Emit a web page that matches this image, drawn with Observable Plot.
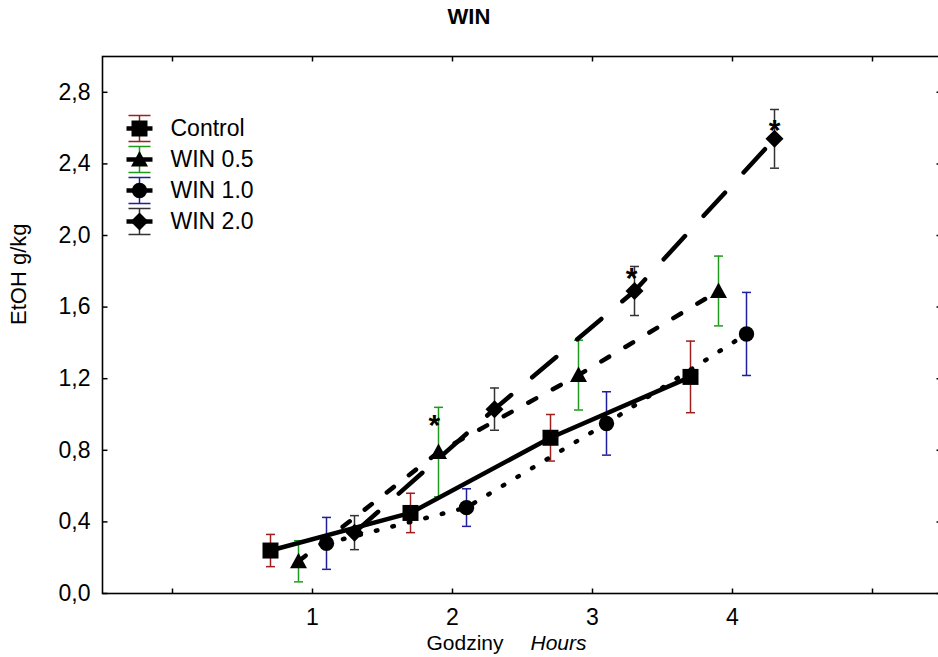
<!DOCTYPE html>
<html>
<head>
<meta charset="utf-8">
<script src="https://cdn.jsdelivr.net/npm/d3@7"></script>
<script src="https://cdn.jsdelivr.net/npm/@observablehq/plot@0.6"></script>
<style>
  html, body { margin: 0; padding: 0; background: #fff; overflow: hidden; }
  #title { width: 938px; height: 36px; box-sizing: border-box; padding-top: 4px; line-height: 22px;
           font: bold 22px "Liberation Sans", Arial, sans-serif; text-align: center; color: #000; }
</style>
</head>
<body>
<div id="title">WIN</div>
<div id="chart"></div>
<script>
// ---------------- data ----------------
const seriesNames = ["Control", "WIN 0.5", "WIN 1.0", "WIN 2.0"];

const controlX    = [0.7, 1.7, 2.7, 3.7];
const controlMean = [0.24, 0.45, 0.87, 1.21];
const controlErr  = [0.09, 0.11, 0.13, 0.20];

const win05X    = [0.9, 1.9, 2.9, 3.9];
const win05Mean = [0.18, 0.79, 1.22, 1.69];
const win05Err  = [0.115, 0.25, 0.195, 0.195];

const win10X    = [1.1, 2.1, 3.1, 4.1];
const win10Mean = [0.28, 0.48, 0.95, 1.45];
const win10Err  = [0.145, 0.105, 0.177, 0.232];

const win20X    = [1.3, 2.3, 3.3, 4.3];
const win20Mean = [0.34, 1.03, 1.69, 2.54];
const win20Err  = [0.095, 0.118, 0.137, 0.164];

// significance marks
const starX = [1.87, 3.28, 4.30];
const starY = [0.96, 1.78, 2.61];

// axis ticks
const xTicks = [0, 1, 2, 3, 4, 5];
const xTickLabels = [1, 2, 3, 4];
const yTicks = [0, 0.4, 0.8, 1.2, 1.6, 2.0, 2.4, 2.8];

const yTitle = "EtOH g/kg";
const xTitlePl = "Godziny";
const xTitleEn = "Hours";

// ---------------- styles ----------------
const FONT = '"Liberation Sans", Arial, sans-serif';
const barColors = ["#a01e1e", "#1f9a1f", "#1e1e9e", "#333333"];
const dashes = [null, "9,19", "1.5,15.5", "31.5,27.5"];

const sym = {
  square:   {draw(c) { c.moveTo(-8, -8); c.lineTo(8, -8); c.lineTo(8, 8); c.lineTo(-8, 8); c.closePath(); }},
  triangle: {draw(c) { c.moveTo(0, -8.5); c.lineTo(8.5, 7); c.lineTo(-8.5, 7); c.closePath(); }},
  circle:   {draw(c) { c.moveTo(7.7, 0); c.arc(0, 0, 7.7, 0, 2 * Math.PI); c.closePath(); }},
  diamond:  {draw(c) { c.moveTo(0, -9); c.lineTo(9, 0); c.lineTo(0, 9); c.lineTo(-9, 0); c.closePath(); }}
};
const markers = [sym.square, sym.triangle, sym.circle, sym.diamond];

const tickUp    = {draw(c) { c.moveTo(0, 0); c.lineTo(0, -5); }};
const tickDown  = {draw(c) { c.moveTo(0, 0); c.lineTo(0, 5); }};
const tickRight = {draw(c) { c.moveTo(0, 0); c.lineTo(5, 0); }};
const tickLeft  = {draw(c) { c.moveTo(0, 0); c.lineTo(-6, 0); }};
const cap       = {draw(c) { c.moveTo(-4.5, 0); c.lineTo(4.5, 0); }};
const legendBar = {draw(c) { c.moveTo(0, -13); c.lineTo(0, 13); c.moveTo(-11, -13); c.lineTo(11, -13); c.moveTo(-11, 13); c.lineTo(11, 13); }};
const legendStub = {draw(c) { c.moveTo(-13, 0); c.lineTo(13, 0); }};

// ---------------- build ----------------
const series = [
  {name: seriesNames[0], x: controlX, mean: controlMean, err: controlErr},
  {name: seriesNames[1], x: win05X, mean: win05Mean, err: win05Err},
  {name: seriesNames[2], x: win10X, mean: win10Mean, err: win10Err},
  {name: seriesNames[3], x: win20X, mean: win20Mean, err: win20Err}
];
const rows = series.map((s, si) => s.x.map((x, i) => ({
  series: s.name, si, x, mean: s.mean[i], lo: s.mean[i] - s.err[i], hi: s.mean[i] + s.err[i]
})));
const allRows = rows.flat();
const stars = starX.map((x, i) => ({x, y: starY[i]}));

const marks = [];

// error bars
marks.push(Plot.ruleX(allRows, {x: "x", y1: "lo", y2: "hi", stroke: d => barColors[d.si], strokeWidth: 1.5}));
marks.push(Plot.dot(allRows, {x: "x", y: "lo", symbol: cap, stroke: d => barColors[d.si], strokeWidth: 1.5, fill: "none"}));
marks.push(Plot.dot(allRows, {x: "x", y: "hi", symbol: cap, stroke: d => barColors[d.si], strokeWidth: 1.5, fill: "none"}));

// lines
rows.forEach((r, si) => {
  marks.push(Plot.line(r, {x: "x", y: "mean", stroke: "black", strokeWidth: 4.5,
    strokeDasharray: dashes[si] || undefined, strokeLinecap: si === 0 ? "butt" : "round"}));
});

// markers
rows.forEach((r, si) => {
  marks.push(Plot.dot(r, {x: "x", y: "mean", symbol: markers[si], fill: "black", stroke: "none"}));
});

// asterisks
marks.push(Plot.text(stars, {x: "x", y: "y", text: () => "*", fontSize: 30, fontWeight: "bold", dy: 4, fill: "black", lineAnchor: "middle"}));

// frame and inward ticks
marks.push(Plot.frame({stroke: "black", strokeWidth: 1.6}));
marks.push(Plot.dot(xTicks, {x: d => d, frameAnchor: "bottom", symbol: tickUp, stroke: "black", strokeWidth: 1.5, fill: "none"}));
marks.push(Plot.dot(xTicks, {x: d => d, frameAnchor: "top", symbol: tickDown, stroke: "black", strokeWidth: 1.5, fill: "none"}));
marks.push(Plot.dot(yTicks, {y: d => d, frameAnchor: "left", symbol: tickRight, stroke: "black", strokeWidth: 1.5, fill: "none"}));
marks.push(Plot.dot(yTicks, {y: d => d, frameAnchor: "right", symbol: tickLeft, stroke: "black", strokeWidth: 1.5, fill: "none"}));

// tick labels
marks.push(Plot.axisX({ticks: xTickLabels, tickSize: 0, tickPadding: 15, tickFormat: d => String(d), fontSize: 23, label: null}));
marks.push(Plot.axisY({ticks: yTicks, tickSize: 0, tickPadding: 12, tickFormat: d => d.toFixed(1).replace(".", ","), fontSize: 23, label: null}));

// axis titles
marks.push(Plot.text([yTitle], {text: d => d, frameAnchor: "left", rotate: -90, dx: -84, fontSize: 22, lineAnchor: "middle"}));
marks.push(Plot.text([xTitlePl], {text: d => d, frameAnchor: "bottom", textAnchor: "end", lineAnchor: "middle", dx: -19, dy: 50, fontSize: 21}));
marks.push(Plot.text([xTitleEn], {text: d => d, frameAnchor: "bottom", textAnchor: "start", lineAnchor: "middle", dx: 8, dy: 50, fontSize: 21, fontStyle: "italic"}));

// legend (inside the frame, top-left)
seriesNames.forEach((name, si) => {
  const dy = 72 + si * 31;
  marks.push(Plot.dot([name], {frameAnchor: "top-left", dx: 37, dy, symbol: legendBar, stroke: barColors[si], strokeWidth: 1.5, fill: "none"}));
  marks.push(Plot.dot([name], {frameAnchor: "top-left", dx: 37, dy, symbol: legendStub, stroke: "black", strokeWidth: 4.5, fill: "none"}));
  marks.push(Plot.dot([name], {frameAnchor: "top-left", dx: 37, dy, symbol: markers[si], fill: "black", stroke: "none"}));
  marks.push(Plot.text([name], {text: d => d, frameAnchor: "top-left", dx: 68, dy, textAnchor: "start", lineAnchor: "middle", fontSize: 23}));
});

const chart = Plot.plot({
  width: 938,
  height: 621,
  marginTop: 20,
  marginBottom: 64,
  marginLeft: 102,
  marginRight: -4,
  style: {fontFamily: FONT, fontSize: "23px", color: "black", background: "white", overflow: "hidden"},
  x: {domain: [-0.5, 5.5], axis: null},
  y: {domain: [0, 3], axis: null},
  marks
});
document.getElementById("chart").appendChild(chart);
</script>
</body>
</html>
